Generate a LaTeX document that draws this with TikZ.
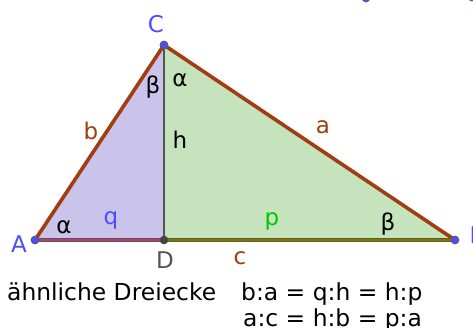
\documentclass[tikz,border=0pt]{standalone}
\usepackage{fontspec}
\setmainfont{DejaVu Sans}
\definecolor{brownc}{RGB}{160,62,18}
\definecolor{purf}{RGB}{202,195,234}
\definecolor{grnf}{RGB}{197,227,188}
\definecolor{ptblue}{RGB}{77,77,255}
\definecolor{pgreen}{RGB}{0,200,0}
\definecolor{hgray}{RGB}{85,85,85}
\definecolor{purl}{RGB}{112,84,196}
\definecolor{grnl}{RGB}{60,150,30}
\begin{document}
\begin{tikzpicture}[x=1pt,y=-1pt,
  side/.style={draw=brownc, line width=3.6pt, line cap=round, line join=round},
  ptnode/.style={circle, fill=ptblue, draw=black!65, line width=0.7pt, inner sep=0pt, minimum size=8pt},
  lbl/.style={font=\fontsize{23}{27}\selectfont, inner sep=0pt, anchor=base},
  txt/.style={font=\fontsize{23.4}{27}\selectfont, inner sep=0pt, anchor=base west}]
\clip (0,0) rectangle (473,327);
\fill[white] (0,0) rectangle (473,327);
\coordinate (A) at (35,240);
\coordinate (B) at (455,240);
\coordinate (C) at (164,45);
\coordinate (D) at (164,240);
% fills
\fill[purf] (A) -- (C) -- (D) -- cycle;
\fill[grnf] (D) -- (C) -- (B) -- cycle;
% height
\draw[hgray, line width=2pt] (C) -- (D);
% sides
\draw[side] (A) -- (C);
\draw[side] (C) -- (B);
\draw[side] (A) -- (B);
\draw[purl, line width=1.6pt] (A) -- (D);
\draw[grnl, line width=1.6pt] (D) -- (B);
% points
\node[ptnode] (pA) at (A) {};
\node[ptnode] (pB) at (B) {};
\node[ptnode] (pC) at (C) {};
\node[circle, fill=hgray!80!black, draw=black!70, line width=0.6pt, inner sep=0pt, minimum size=8pt] (pD) at (D) {};
\node[ptnode] (pE) at (366,-2) {};
\node[ptnode] (pF) at (472,-3) {};
% point labels
\node[lbl, text=ptblue] (lC) at (156,32) {C};
\node[lbl, text=ptblue] (lA) at (19,252) {A};
\node[lbl, text=ptblue, anchor=base west] (lB) at (469.5,243) {B};
\node[lbl, text=hgray] (lD) at (165,268) {D};
% side labels
\node[lbl, text=brownc] (la) at (323,133) {a};
\node[lbl, text=brownc] (lb) at (91,139) {b};
\node[lbl, text=brownc] (lc) at (240,264) {c};
\node[lbl] (lh) at (180,148) {h};
\node[lbl, text=ptblue] (lq) at (111,224) {q};
\node[lbl, text=pgreen] (lp) at (272,225) {p};
% angles
\node[lbl] (bC) at (153,93.5) {β};
\node[lbl] (aC) at (180,86) {α};
\node[lbl] (aA) at (64,233) {α};
\node[lbl] (bB) at (388,230) {β};
% text
\node[txt] (t1) at (7,300) {ähnliche Dreiecke};
\node[txt] (t2) at (241,300) {b:a = q:h = h:p};
\node[txt] (t3) at (243,326) {a:c = h:b = p:a};
\end{tikzpicture}
\end{document}
